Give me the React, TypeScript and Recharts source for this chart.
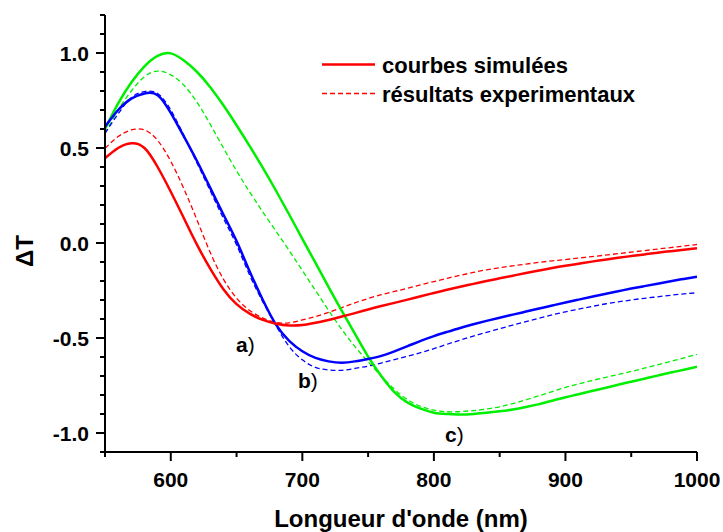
import { Line, LineChart, XAxis, YAxis } from "recharts";

const wavelength = [
  550, 560, 570, 580, 590, 600, 610, 620, 630, 640, 650, 660, 670, 680, 690, 700,
  710, 720, 730, 740, 750, 760, 770, 780, 790, 800, 810, 820, 830, 840, 850, 860,
  870, 880, 890, 900, 910, 920, 930, 940, 950, 960, 970, 980, 990, 1000,
];

// a) red
const simA = [
  0.446, 0.5, 0.525, 0.5, 0.4, 0.27, 0.13, -0.01, -0.135, -0.243, -0.322, -0.372, -0.405, -0.425, -0.434, -0.432,
  -0.42, -0.405, -0.387, -0.369, -0.35, -0.332, -0.315, -0.298, -0.28, -0.263, -0.246, -0.23, -0.215, -0.2, -0.186, -0.172,
  -0.158, -0.145, -0.132, -0.12, -0.109, -0.098, -0.088, -0.078, -0.069, -0.06, -0.051, -0.043, -0.035, -0.028,
];
const expA = [
  0.498, 0.56, 0.595, 0.595, 0.54, 0.43, 0.285, 0.12, -0.05, -0.19, -0.29, -0.355, -0.395, -0.418, -0.42, -0.405,
  -0.387, -0.365, -0.34, -0.315, -0.292, -0.272, -0.255, -0.238, -0.22, -0.203, -0.186, -0.17, -0.155, -0.141, -0.13, -0.12,
  -0.111, -0.102, -0.094, -0.087, -0.079, -0.072, -0.064, -0.056, -0.048, -0.04, -0.032, -0.024, -0.016, -0.008,
];

// b) blue
const simB = [
  0.612, 0.7, 0.76, 0.787, 0.778, 0.685, 0.56, 0.43, 0.29, 0.15, 0.01, -0.15, -0.3, -0.43, -0.515, -0.57,
  -0.605, -0.623, -0.63, -0.623, -0.61, -0.594, -0.57, -0.543, -0.515, -0.49, -0.468, -0.447, -0.428, -0.41, -0.393, -0.377,
  -0.361, -0.345, -0.329, -0.313, -0.298, -0.283, -0.268, -0.254, -0.24, -0.227, -0.214, -0.201, -0.189, -0.177,
];
const expB = [
  0.577, 0.68, 0.765, 0.797, 0.787, 0.7, 0.565, 0.42, 0.275, 0.13, -0.01, -0.17, -0.31, -0.435, -0.545, -0.615,
  -0.655, -0.668, -0.67, -0.66, -0.648, -0.632, -0.614, -0.596, -0.577, -0.556, -0.533, -0.511, -0.49, -0.47, -0.451, -0.432,
  -0.414, -0.396, -0.378, -0.362, -0.348, -0.334, -0.321, -0.31, -0.3, -0.291, -0.283, -0.275, -0.268, -0.262,
];

// c) green
const simC = [
  0.6, 0.735, 0.845, 0.93, 0.985, 0.998, 0.96, 0.9, 0.82, 0.725, 0.62, 0.51, 0.395, 0.275, 0.15, 0.022,
  -0.105, -0.232, -0.357, -0.478, -0.598, -0.7, -0.785, -0.84, -0.872, -0.893, -0.9, -0.903, -0.9, -0.894, -0.886, -0.876,
  -0.863, -0.848, -0.83, -0.812, -0.796, -0.779, -0.763, -0.746, -0.73, -0.714, -0.698, -0.682, -0.667, -0.651,
];
const expC = [
  0.577, 0.7, 0.8, 0.875, 0.905, 0.885, 0.83, 0.74, 0.625, 0.5, 0.38, 0.268, 0.163, 0.062, -0.04, -0.145,
  -0.25, -0.355, -0.455, -0.545, -0.625, -0.7, -0.77, -0.825, -0.86, -0.88, -0.888, -0.887, -0.882, -0.874, -0.862, -0.845,
  -0.825, -0.804, -0.782, -0.76, -0.742, -0.724, -0.708, -0.692, -0.676, -0.659, -0.641, -0.623, -0.605, -0.586,
];

const xTicks = [550, 600, 650, 700, 750, 800, 850, 900, 950, 1000];
const yTicks = [
  -1.1, -1.0, -0.9, -0.8, -0.7, -0.6, -0.5, -0.4, -0.3, -0.2, -0.1, 0, 0.1, 0.2, 0.3, 0.4, 0.5, 0.6, 0.7, 0.8,
  0.9, 1.0, 1.1, 1.2,
];

const RED = "#ff0000";
const BLUE = "#0000ff";
const GREEN = "#00ee00";
const FONT = "'Liberation Sans', Arial, sans-serif";

const data = wavelength.map((x, i) => ({
  x,
  simA: simA[i],
  expA: expA[i],
  simB: simB[i],
  expB: expB[i],
  simC: simC[i],
  expC: expC[i],
}));

function BottomTick(p: any) {
  const v = p.payload.value;
  const major = v % 100 === 0;
  return (
    <g>
      <line x1={p.x} x2={p.x} y1={p.y} y2={p.y + (major ? 9 : 5)} stroke="#000" strokeWidth={2} />
      {major && (
        <text x={p.x} y={p.y + 35} textAnchor="middle" fontFamily={FONT} fontWeight="bold" fontSize={21} fill="#000">
          {v}
        </text>
      )}
    </g>
  );
}

function LeftTick(p: any) {
  const v = p.payload.value;
  const major = Math.round(v * 10) % 5 === 0;
  return (
    <g>
      <line x1={p.x} x2={p.x - (major ? 9 : 5)} y1={p.y} y2={p.y} stroke="#000" strokeWidth={2} />
      {major && (
        <text x={p.x - 16} y={p.y + 7.5} textAnchor="end" fontFamily={FONT} fontWeight="bold" fontSize={21} fill="#000">
          {v.toFixed(1)}
        </text>
      )}
    </g>
  );
}

const noLabel = () => <g />;

const AXIS_LINE = { stroke: "#000", strokeWidth: 2 };

export default function App() {
  return (
    <div style={{ position: "absolute", left: 0, top: 0, width: 723, height: 532, background: "#fff" }}>
      <LineChart width={723} height={532} data={data} margin={{ top: 15, right: 26, bottom: 0, left: 0 }}>
        <XAxis
          xAxisId="main"
          dataKey="x"
          type="number"
          domain={[550, 1000]}
          ticks={xTicks}
          interval={0}
          height={80}
          stroke="#000"
          axisLine={AXIS_LINE}
          tickLine={false}
          tickSize={0}
          tickMargin={0}
          tick={BottomTick}
          allowDataOverflow
        />
        <XAxis
          xAxisId="top"
          orientation="top"
          type="number"
          domain={[550, 1000]}
          ticks={xTicks}
          interval={0}
          height={0}
          stroke="#000"
          axisLine={AXIS_LINE}
          tickLine={{ stroke: "#000", strokeWidth: 1.5 }}
          tickSize={3}
          tick={noLabel}
          allowDataOverflow
        />
        <YAxis
          yAxisId="main"
          type="number"
          domain={[-1.1, 1.2]}
          ticks={yTicks}
          interval={0}
          width={105}
          stroke="#000"
          axisLine={AXIS_LINE}
          tickLine={false}
          tickSize={0}
          tickMargin={0}
          tick={LeftTick}
          allowDataOverflow
        />
        <YAxis
          yAxisId="right"
          orientation="right"
          type="number"
          domain={[-1.1, 1.2]}
          ticks={yTicks}
          interval={0}
          width={0}
          stroke="#000"
          axisLine={AXIS_LINE}
          tickLine={{ stroke: "#000", strokeWidth: 1.5 }}
          tickSize={3}
          tick={noLabel}
          allowDataOverflow
        />
        <Line xAxisId="main" yAxisId="main" type="natural" dataKey="expC" stroke={GREEN} strokeWidth={1.3} strokeDasharray="5 3" dot={false} isAnimationActive={false} />
        <Line xAxisId="main" yAxisId="main" type="natural" dataKey="expB" stroke={BLUE} strokeWidth={1.3} strokeDasharray="5 3" dot={false} isAnimationActive={false} />
        <Line xAxisId="main" yAxisId="main" type="natural" dataKey="expA" stroke={RED} strokeWidth={1.3} strokeDasharray="5 3" dot={false} isAnimationActive={false} />
        <Line xAxisId="main" yAxisId="main" type="natural" dataKey="simC" stroke={GREEN} strokeWidth={2.5} dot={false} isAnimationActive={false} />
        <Line xAxisId="main" yAxisId="main" type="natural" dataKey="simB" stroke={BLUE} strokeWidth={2.5} dot={false} isAnimationActive={false} />
        <Line xAxisId="main" yAxisId="main" type="natural" dataKey="simA" stroke={RED} strokeWidth={2.5} dot={false} isAnimationActive={false} />
      </LineChart>

      {/* legend, axis titles and curve labels */}
      <svg width={723} height={532} style={{ position: "absolute", left: 0, top: 0, pointerEvents: "none" }} fontFamily={FONT}>
        <line x1={322} x2={375} y1={64.5} y2={64.5} stroke={RED} strokeWidth={2.5} />
        <text x={382} y={72.5} fontSize={22} fontWeight="bold" fill="#000">courbes simulées</text>
        <line x1={322} x2={375} y1={93.5} y2={93.5} stroke={RED} strokeWidth={1.3} strokeDasharray="5 3" />
        <text x={382} y={101.5} fontSize={22} fontWeight="bold" fill="#000">résultats experimentaux</text>

        <text x={401} y={527} textAnchor="middle" fontSize={24} fontWeight="bold" fill="#000">Longueur d'onde (nm)</text>
        <text transform="translate(33,251) rotate(-90)" textAnchor="middle" fontSize={24} fontWeight="bold" fill="#000">ΔT</text>

        <text x={236} y={352} fontSize={21} fill="#000"><tspan fontWeight="bold">a</tspan>)</text>
        <text x={298} y={388} fontSize={21} fill="#000"><tspan fontWeight="bold">b</tspan>)</text>
        <text x={445} y={442} fontSize={21} fill="#000"><tspan fontWeight="bold">c</tspan>)</text>
      </svg>
    </div>
  );
}
